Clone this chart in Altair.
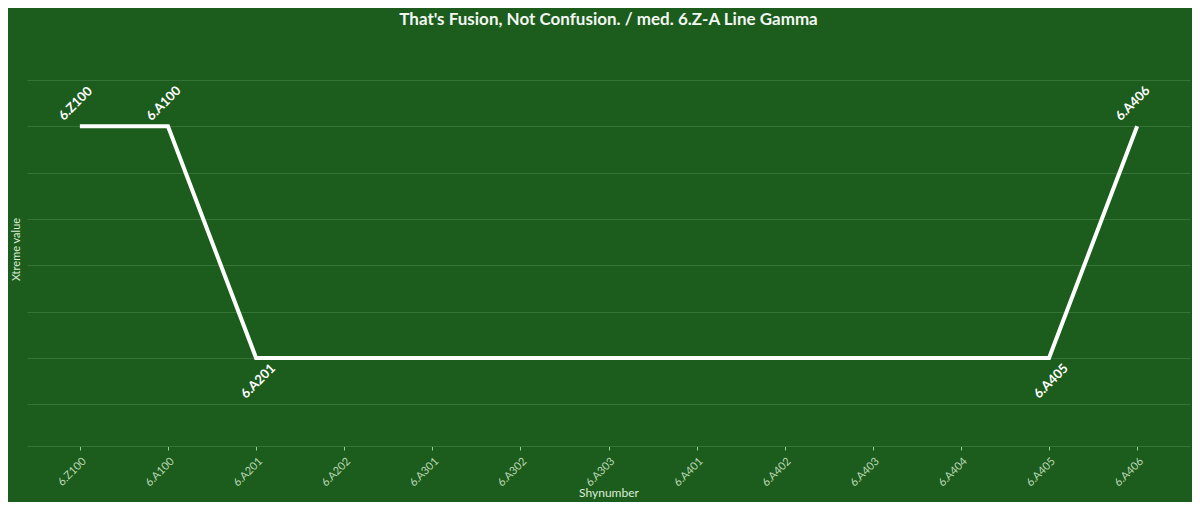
import altair as alt
import pandas as pd

categories = ["6.Z100", "6.A100", "6.A201", "6.A202", "6.A301", "6.A302", "6.A303",
              "6.A401", "6.A402", "6.A403", "6.A404", "6.A405", "6.A406"]
values = [5, 5, 0, 0, 0, 0, 0, 0, 0, 0, 0, 0, 5]
label_cats = ["6.Z100", "6.A100", "6.A201", "6.A405", "6.A406"]
label_pos = ["top", "top", "bottom", "bottom", "top"]

df = pd.DataFrame({"Shynumber": categories, "value": values})
lab = pd.DataFrame({"Shynumber": label_cats, "pos": label_pos})
lab = lab.merge(df, on="Shynumber")

BG = "#1c5c1d"
GRID = "#357436"
FONT = "Lato"

x_enc = alt.X("Shynumber:N", sort=categories, title="Shynumber",
              scale=alt.Scale(type="point", padding=0.6),
              axis=alt.Axis(labelAngle=315, labelFontSize=11, labelColor="#b9d9b4",
                            tickColor="#9fcf99", tickSize=4, domainColor=GRID,
                            titleColor="#dcecd9", titleFontSize=12, titleFontWeight="normal",
                            titleY=46, titleBaseline="middle", labelPadding=5, grid=False))
y_enc = alt.Y("value:Q", title="Xtreme value",
              scale=alt.Scale(domain=[-1.9, 6.6], nice=False, zero=False),
              axis=alt.Axis(values=[-1, 0, 1, 2, 3, 4, 5, 6], labels=False, ticks=False,
                            domain=False, gridColor=GRID, gridWidth=1,
                            titleColor="#dcecd9", titleFontSize=11, titleFontWeight="normal",
                            titlePadding=6))

line = alt.Chart(df).mark_line(color="white", strokeWidth=4).encode(x=x_enc, y=y_enc)

top = alt.Chart(lab).transform_filter(alt.datum.pos == "top").mark_text(
    angle=315, color="white", fontSize=13, fontWeight="bold", font=FONT,
    align="center", baseline="middle", dx=13, dy=-19
).encode(x=alt.X("Shynumber:N", sort=categories), y="value:Q", text="Shynumber:N")

bottom = alt.Chart(lab).transform_filter(alt.datum.pos == "bottom").mark_text(
    angle=315, color="white", fontSize=13, fontWeight="bold", font=FONT,
    align="center", baseline="middle", dx=-15, dy=18
).encode(x=alt.X("Shynumber:N", sort=categories), y="value:Q", text="Shynumber:N")

chart = alt.layer(line, top, bottom).properties(
    width=1163, height=394,
    title=alt.TitleParams("That's Fusion, Not Confusion. / med. 6.Z-A Line Gamma",
                          anchor="middle", fontSize=17, fontWeight="bold",
                          color="#f2f7f1", font=FONT, offset=23),
    background=BG,
    padding={"left": 19, "top": 44, "right": 2, "bottom": 56},
    autosize=alt.AutoSizeParams(type="none"),
).configure_view(stroke=None).configure_axis(labelFont=FONT, titleFont=FONT)

chart.save("out.html", embed_options={"renderer": "svg", "actions": False})
